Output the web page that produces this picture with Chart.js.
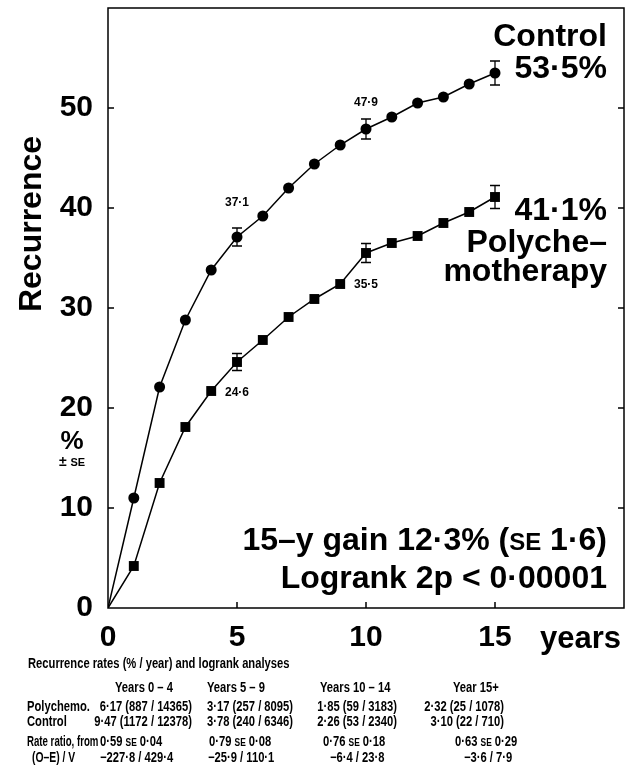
<!DOCTYPE html>
<html>
<head>
<meta charset="utf-8">
<script src="https://cdn.jsdelivr.net/npm/chart.js@4/dist/chart.umd.min.js"></script>
<style>
  html, body { margin: 0; padding: 0; background: #fff; }
  canvas { display: block; }
</style>
</head>
<body>
<canvas id="chart" width="632" height="765"></canvas>
<script>
// data
const years = [0, 1, 2, 3, 4, 5, 6, 7, 8, 9, 10, 11, 12, 13, 14, 15];
const controlRisk = [0, 11.0, 22.1, 28.8, 33.8, 37.1, 39.2, 42.0, 44.4, 46.3, 47.9, 49.1, 50.5, 51.1, 52.4, 53.5];
const polyRisk = [0, 4.2, 12.5, 18.1, 21.7, 24.6, 26.8, 29.1, 30.9, 32.4, 35.5, 36.5, 37.2, 38.5, 39.6, 41.1];
const seYears = [5, 10, 15];
const controlSE = [0.9, 1.0, 1.2];
const polySE = [0.85, 0.95, 1.15];
const xTickLabels = [0, 5, 10, 15];
const yTickLabels = [0, 10, 20, 30, 40, 50];

// table under the chart
const tableTitle = 'Recurrence rates (% / year) and logrank analyses';
const periodLabels = ['Years 0 – 4', 'Years 5 – 9', 'Years 10 – 14', 'Year 15+'];
const polyRates = ['6·17 (887 / 14365)', '3·17 (257 / 8095)', '1·85 (59 / 3183)', '2·32 (25 / 1078)'];
const controlRates = ['9·47 (1172 / 12378)', '3·78 (240 / 6346)', '2·26 (53 / 2340)', '3·10 (22 / 710)'];
const rateRatios = ['0·59', '0·79', '0·76', '0·63'];
const rateRatioSE = ['0·04', '0·08', '0·18', '0·29'];
const oeOverV = ['−227·8 / 429·4', '−25·9 / 110·1', '−6·4 / 23·8', '−3·6 / 7·9'];

const FONT = '"Liberation Sans", Arial, Helvetica, sans-serif';
const SQUEEZE = 0.8;   // table text is a narrow face
const fmt = v => v.toFixed(1).replace('.', '·');

// draws text runs of mixed size, optionally squeezed horizontally
function drawParts(ctx, parts, x, y, align, sx = 1) {
    let total = 0;
    parts.forEach(p => { ctx.font = p.f; total += ctx.measureText(p.t).width * sx; });
    let cx = align === 'right' ? x - total : (align === 'center' ? x - total / 2 : x);
    ctx.textAlign = 'left';
    parts.forEach(p => {
        ctx.font = p.f;
        ctx.save();
        ctx.translate(cx, y);
        ctx.scale(sx, 1);
        ctx.fillText(p.t, 0, 0);
        ctx.restore();
        cx += ctx.measureText(p.t).width * sx;
    });
}

const framePlugin = {
    id: 'frame',
    afterDatasetsDraw(chart) {
        const { ctx, chartArea: a, scales: { x, y } } = chart;
        ctx.save();
        ctx.strokeStyle = '#000';
        ctx.lineWidth = 1.5;
        ctx.strokeRect(a.left, a.top, a.right - a.left, a.bottom - a.top);
        ctx.beginPath();
        yTickLabels.slice(1).forEach(v => {
            const py = y.getPixelForValue(v);
            ctx.moveTo(a.left, py); ctx.lineTo(a.left + 6, py);
            ctx.moveTo(a.right, py); ctx.lineTo(a.right - 6, py);
        });
        xTickLabels.slice(1).forEach(v => {
            const px = x.getPixelForValue(v);
            ctx.moveTo(px, a.bottom); ctx.lineTo(px, a.bottom - 6);
        });
        ctx.stroke();

        // error bars
        ctx.lineWidth = 1.3;
        [[controlRisk, controlSE], [polyRisk, polySE]].forEach(([risk, se]) => {
            seYears.forEach((yr, i) => {
                const px = x.getPixelForValue(yr);
                const v = risk[years.indexOf(yr)];
                const top = y.getPixelForValue(v + se[i]);
                const bot = y.getPixelForValue(v - se[i]);
                ctx.beginPath();
                ctx.moveTo(px, top); ctx.lineTo(px, bot);
                ctx.moveTo(px - 5, top); ctx.lineTo(px + 5, top);
                ctx.moveTo(px - 5, bot); ctx.lineTo(px + 5, bot);
                ctx.stroke();
            });
        });
        ctx.restore();
    }
};

const textPlugin = {
    id: 'texts',
    afterDraw(chart) {
        const { ctx, scales: { x, y } } = chart;
        ctx.save();
        ctx.fillStyle = '#000';
        ctx.textBaseline = 'alphabetic';

        // point value labels
        ctx.font = 'bold 12px ' + FONT;
        ctx.textAlign = 'center';
        const pt = (arr, i) => [x.getPixelForValue(years[i]), y.getPixelForValue(arr[i])];
        let p = pt(controlRisk, 5);
        ctx.fillText(fmt(controlRisk[5]), p[0], p[1] - 31);
        p = pt(controlRisk, 10);
        ctx.fillText(fmt(controlRisk[10]), p[0], p[1] - 23);
        p = pt(polyRisk, 5);
        ctx.fillText(fmt(polyRisk[5]), p[0], p[1] + 34);
        p = pt(polyRisk, 10);
        ctx.fillText(fmt(polyRisk[10]), p[0], p[1] + 35);

        // series captions
        const big = 'bold 32px ' + FONT;
        ctx.font = big;
        ctx.textAlign = 'right';
        ctx.fillText('Control', 607, 46);
        ctx.fillText(fmt(controlRisk[15]) + '%', 607, 78);
        ctx.fillText(fmt(polyRisk[15]) + '%', 607, 220);
        ctx.fillText('Polyche–', 607, 252);
        ctx.fillText('motherapy', 607, 281);

        drawParts(ctx, [{ t: '15–y gain 12·3% (', f: big }, { t: 'SE', f: 'bold 24px ' + FONT }, { t: ' 1·6)', f: big }], 607, 550, 'right');
        ctx.font = big;
        ctx.textAlign = 'right';
        ctx.fillText('Logrank 2p < 0·00001', 607, 588);

        // axis titles
        ctx.save();
        ctx.translate(41, 224);
        ctx.rotate(-Math.PI / 2);
        ctx.textAlign = 'center';
        ctx.font = 'bold 32px ' + FONT;
        ctx.fillText('Recurrence', 0, 0);
        ctx.restore();
        ctx.textAlign = 'center';
        ctx.font = 'bold 26px ' + FONT;
        ctx.fillText('%', 72, 449);
        drawParts(ctx, [{ t: '± ', f: 'bold 14px ' + FONT }, { t: 'SE', f: 'bold 11px ' + FONT }], 72, 466, 'center');
        ctx.font = 'bold 31px ' + FONT;
        ctx.textAlign = 'left';
        ctx.fillText('years', 540, 648);

        // table
        const tf = 'bold 14px ' + FONT;
        const sf = 'bold 10.5px ' + FONT;
        const row = (t, xx, yy, align, sx = SQUEEZE) => drawParts(ctx, [{ t, f: tf }], xx, yy, align, sx);
        row(tableTitle, 28, 668, 'left');
        const headX = [115, 207, 320, 453];
        periodLabels.forEach((t, i) => row(t, headX[i], 692, 'left'));
        row('Polychemo.', 27, 711, 'left');
        row('Control', 27, 726, 'left');
        row('Rate ratio, from', 27, 746, 'left', 0.69);
        row('(O–E) / V', 32, 762, 'left', 0.74);
        const rateRight = [192, 293, 397, 504];
        polyRates.forEach((t, i) => row(t, rateRight[i], 711, 'right'));
        controlRates.forEach((t, i) => row(t, rateRight[i], 726, 'right'));
        const rrX = [100, 209, 323, 455];
        rateRatios.forEach((t, i) => drawParts(ctx, [{ t: t + ' ', f: tf }, { t: 'SE', f: sf }, { t: ' ' + rateRatioSE[i], f: tf }], rrX[i], 746, 'left', SQUEEZE));
        const oeX = [100, 208, 330, 464];
        oeOverV.forEach((t, i) => row(t, oeX[i], 762, 'left'));
        ctx.restore();
    }
};

const chart = new Chart(document.querySelector('#chart'), {
    type: 'line',
    data: {
        datasets: [{
            label: 'Control',
            data: years.map((yr, i) => ({ x: yr, y: controlRisk[i] })),
            borderColor: '#000',
            borderWidth: 1.5,
            pointStyle: 'circle',
            pointRadius: years.map(yr => yr === 0 ? 0 : 5.5),
            pointBackgroundColor: '#000',
            pointBorderColor: '#000',
            pointBorderWidth: 0,
            tension: 0
        }, {
            label: 'Polychemotherapy',
            data: years.map((yr, i) => ({ x: yr, y: polyRisk[i] })),
            borderColor: '#000',
            borderWidth: 1.5,
            pointStyle: 'rect',
            pointRadius: years.map(yr => yr === 0 ? 0 : 7),
            pointBackgroundColor: '#000',
            pointBorderColor: '#000',
            pointBorderWidth: 0,
            tension: 0
        }]
    },
    options: {
        responsive: false,
        animation: false,
        layout: {
            padding: { top: 8, right: 8, left: 0, bottom: 0 }
        },
        plugins: {
            legend: { display: false },
            tooltip: { enabled: false }
        },
        scales: {
            x: {
                type: 'linear',
                min: 0,
                max: 20,
                afterFit: s => { s.height = 157; s.paddingLeft = 0; s.paddingRight = 0; },
                grid: { display: false, drawTicks: false },
                border: { display: false },
                ticks: {
                    stepSize: 5,
                    autoSkip: false,
                    maxRotation: 0,
                    padding: 12,
                    color: '#000',
                    font: { family: FONT, weight: 'bold', size: 30 },
                    callback: v => xTickLabels.includes(v) ? String(v) : ''
                }
            },
            y: {
                min: 0,
                max: 60,
                afterFit: s => { s.width = 108; s.paddingTop = 0; s.paddingBottom = 0; },
                grid: { display: false, drawTicks: false },
                border: { display: false },
                ticks: {
                    stepSize: 10,
                    padding: 15,
                    color: '#000',
                    font: { family: FONT, weight: 'bold', size: 30 },
                    callback: v => yTickLabels.includes(v) ? String(v) : ''
                }
            }
        }
    },
    plugins: [framePlugin, textPlugin]
});
</script>
</body>
</html>
